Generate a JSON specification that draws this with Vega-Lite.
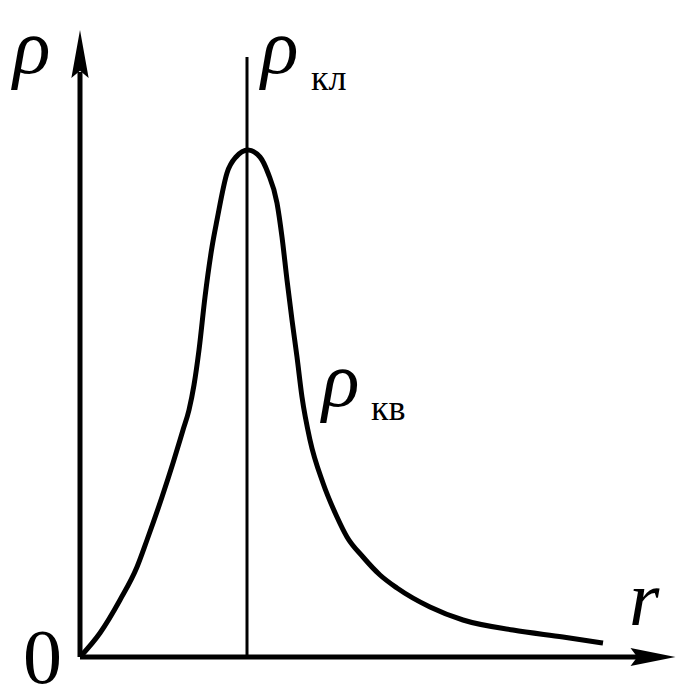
{
  "$schema": "https://vega.github.io/schema/vega-lite/v6.json",
  "width": 684,
  "height": 696,
  "padding": 0,
  "autosize": {"type": "none"},
  "background": "white",
  "config": {"view": {"stroke": null}},
  "datasets": {
    "curve": [
      {"r": 0, "rho": 0}, {"r": 20, "rho": 24}, {"r": 40, "rho": 57}, {"r": 57, "rho": 90},
      {"r": 67, "rho": 117}, {"r": 82, "rho": 160}, {"r": 93, "rho": 194}, {"r": 103, "rho": 227},
      {"r": 109, "rho": 247}, {"r": 114, "rho": 272}, {"r": 119, "rho": 307}, {"r": 125, "rho": 360},
      {"r": 132, "rho": 410}, {"r": 137, "rho": 437}, {"r": 147, "rho": 484}, {"r": 156, "rho": 500},
      {"r": 168, "rho": 507}, {"r": 180, "rho": 500}, {"r": 188, "rho": 484}, {"r": 197, "rho": 454},
      {"r": 202, "rho": 420}, {"r": 207, "rho": 377}, {"r": 212, "rho": 337}, {"r": 217, "rho": 300},
      {"r": 222, "rho": 260}, {"r": 230, "rho": 217}, {"r": 243, "rho": 174}, {"r": 257, "rho": 140},
      {"r": 267, "rho": 120}, {"r": 283, "rho": 100}, {"r": 300, "rho": 82}, {"r": 317, "rho": 69},
      {"r": 350, "rho": 50}, {"r": 383, "rho": 37}, {"r": 433, "rho": 27}, {"r": 483, "rho": 20},
      {"r": 523, "rho": 14}
    ],
    "axes": [
      {"r": 0, "rho": 0, "r2": 560, "rho2": 0},
      {"r": 0, "rho": 0, "r2": 0, "rho2": 585}
    ],
    "vline": [{"r": 167, "rho": 0, "r2": 167, "rho2": 600}],
    "arrowX": [{"r": 573, "rho": 0}],
    "arrowY": [{"r": 0, "rho": 603}],
    "italics": [
      {"label": "ρ", "r": -67, "rho": 584},
      {"label": "ρ", "r": 181, "rho": 584},
      {"label": "ρ", "r": 242, "rho": 251},
      {"label": "r", "r": 549, "rho": 32}
    ],
    "subs": [
      {"label": "кл", "r": 231, "rho": 567},
      {"label": "кв", "r": 291, "rho": 237}
    ],
    "zero": [{"label": "0", "r": -57, "rho": -26}]
  },
  "layer": [
    {
      "data": {"name": "axes"},
      "mark": {"type": "rule", "color": "black", "strokeWidth": 5},
      "encoding": {
        "x": {"field": "r", "type": "quantitative", "scale": {"domain": [-80, 604], "nice": false, "zero": false}, "axis": null},
        "y": {"field": "rho", "type": "quantitative", "scale": {"domain": [-39, 657], "nice": false, "zero": false}, "axis": null},
        "x2": {"field": "r2"},
        "y2": {"field": "rho2"}
      }
    },
    {
      "data": {"name": "vline"},
      "mark": {"type": "rule", "color": "black", "strokeWidth": 3},
      "encoding": {
        "x": {"field": "r", "type": "quantitative"},
        "y": {"field": "rho", "type": "quantitative"},
        "x2": {"field": "r2"},
        "y2": {"field": "rho2"}
      }
    },
    {
      "data": {"name": "curve"},
      "mark": {"type": "line", "color": "black", "strokeWidth": 5, "interpolate": "monotone"},
      "encoding": {
        "x": {"field": "r", "type": "quantitative"},
        "y": {"field": "rho", "type": "quantitative"}
      }
    },
    {
      "data": {"name": "arrowX"},
      "mark": {"type": "point", "filled": true, "color": "black", "opacity": 1, "size": 2025, "shape": "M1,0 L-1,-0.4 L-0.7,0 L-1,0.4 Z"},
      "encoding": {
        "x": {"field": "r", "type": "quantitative"},
        "y": {"field": "rho", "type": "quantitative"}
      }
    },
    {
      "data": {"name": "arrowY"},
      "mark": {"type": "point", "filled": true, "color": "black", "opacity": 1, "size": 2304, "shape": "M0,-1 L-0.36,1 L0,0.7 L0.36,1 Z"},
      "encoding": {
        "x": {"field": "r", "type": "quantitative"},
        "y": {"field": "rho", "type": "quantitative"}
      }
    },
    {
      "data": {"name": "italics"},
      "mark": {"type": "text", "font": "Liberation Serif", "fontStyle": "italic", "fontSize": 78, "align": "left", "baseline": "alphabetic", "color": "black"},
      "encoding": {
        "x": {"field": "r", "type": "quantitative"},
        "y": {"field": "rho", "type": "quantitative"},
        "text": {"field": "label"}
      }
    },
    {
      "data": {"name": "subs"},
      "mark": {"type": "text", "font": "Liberation Serif", "fontSize": 36, "align": "left", "baseline": "alphabetic", "color": "black"},
      "encoding": {
        "x": {"field": "r", "type": "quantitative"},
        "y": {"field": "rho", "type": "quantitative"},
        "text": {"field": "label"}
      }
    },
    {
      "data": {"name": "zero"},
      "mark": {"type": "text", "font": "Liberation Serif", "fontSize": 78, "align": "left", "baseline": "alphabetic", "color": "black"},
      "encoding": {
        "x": {"field": "r", "type": "quantitative"},
        "y": {"field": "rho", "type": "quantitative"},
        "text": {"field": "label"}
      }
    }
  ]
}
